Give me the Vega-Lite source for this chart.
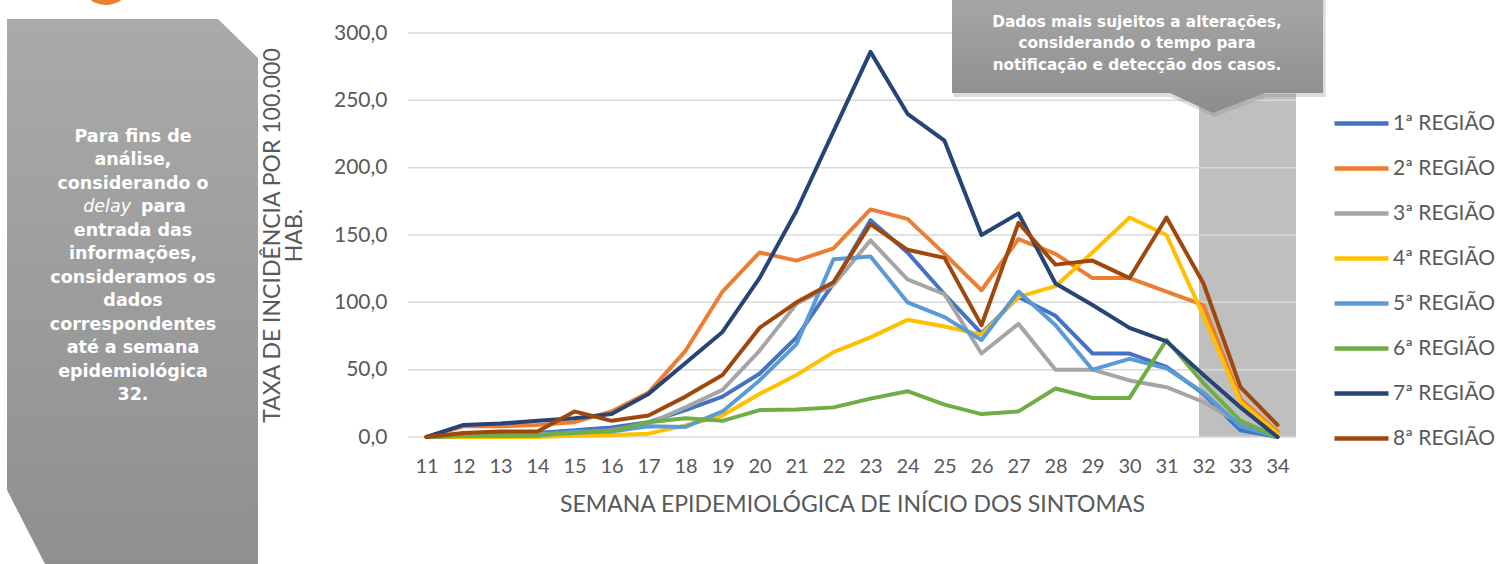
{
  "$schema": "https://vega.github.io/schema/vega-lite/v6.json",
  "width": 888,
  "height": 404,
  "autosize": {"type": "none"},
  "padding": {"left": 408, "top": 33, "right": 203, "bottom": 127},
  "background": "white",
  "config": {
    "view": {"stroke": null},
    "axis": {"labelOverlap": false, "labelSeparation": -100, "labelBound": false}
  },
  "datasets": {
    "series": [
      {"semana": 11, "1ª REGIÃO": 0, "2ª REGIÃO": 0, "3ª REGIÃO": 0, "4ª REGIÃO": 0, "5ª REGIÃO": 0, "6ª REGIÃO": 0, "7ª REGIÃO": 0, "8ª REGIÃO": 0},
      {"semana": 12, "1ª REGIÃO": 2, "2ª REGIÃO": 8, "3ª REGIÃO": 1, "4ª REGIÃO": 0, "5ª REGIÃO": 1, "6ª REGIÃO": 1, "7ª REGIÃO": 9, "8ª REGIÃO": 3},
      {"semana": 13, "1ª REGIÃO": 3, "2ª REGIÃO": 8, "3ª REGIÃO": 1, "4ª REGIÃO": 0, "5ª REGIÃO": 1, "6ª REGIÃO": 1, "7ª REGIÃO": 10, "8ª REGIÃO": 4},
      {"semana": 14, "1ª REGIÃO": 3, "2ª REGIÃO": 9, "3ª REGIÃO": 2, "4ª REGIÃO": 0, "5ª REGIÃO": 1, "6ª REGIÃO": 1.5, "7ª REGIÃO": 12, "8ª REGIÃO": 4},
      {"semana": 15, "1ª REGIÃO": 5, "2ª REGIÃO": 11, "3ª REGIÃO": 3, "4ª REGIÃO": 1, "5ª REGIÃO": 4, "6ª REGIÃO": 3, "7ª REGIÃO": 14, "8ª REGIÃO": 19},
      {"semana": 16, "1ª REGIÃO": 7, "2ª REGIÃO": 19, "3ª REGIÃO": 5, "4ª REGIÃO": 1.5, "5ª REGIÃO": 4, "6ª REGIÃO": 4.5, "7ª REGIÃO": 17, "8ª REGIÃO": 12},
      {"semana": 17, "1ª REGIÃO": 11, "2ª REGIÃO": 33, "3ª REGIÃO": 10, "4ª REGIÃO": 2.5, "5ª REGIÃO": 8, "6ª REGIÃO": 11, "7ª REGIÃO": 32, "8ª REGIÃO": 16},
      {"semana": 18, "1ª REGIÃO": 20, "2ª REGIÃO": 64, "3ª REGIÃO": 22, "4ª REGIÃO": 8.6, "5ª REGIÃO": 7.5, "6ª REGIÃO": 14, "7ª REGIÃO": 55, "8ª REGIÃO": 30},
      {"semana": 19, "1ª REGIÃO": 30, "2ª REGIÃO": 108, "3ª REGIÃO": 35, "4ª REGIÃO": 16, "5ª REGIÃO": 19, "6ª REGIÃO": 12, "7ª REGIÃO": 78, "8ª REGIÃO": 46},
      {"semana": 20, "1ª REGIÃO": 47, "2ª REGIÃO": 137, "3ª REGIÃO": 64, "4ª REGIÃO": 32, "5ª REGIÃO": 42, "6ª REGIÃO": 20, "7ª REGIÃO": 118, "8ª REGIÃO": 81},
      {"semana": 21, "1ª REGIÃO": 74, "2ª REGIÃO": 131, "3ª REGIÃO": 99, "4ª REGIÃO": 46, "5ª REGIÃO": 69, "6ª REGIÃO": 20.5, "7ª REGIÃO": 168, "8ª REGIÃO": 100},
      {"semana": 22, "1ª REGIÃO": 114, "2ª REGIÃO": 140, "3ª REGIÃO": 113, "4ª REGIÃO": 63, "5ª REGIÃO": 132, "6ª REGIÃO": 22, "7ª REGIÃO": 227, "8ª REGIÃO": 115},
      {"semana": 23, "1ª REGIÃO": 161, "2ª REGIÃO": 169, "3ª REGIÃO": 146, "4ª REGIÃO": 74, "5ª REGIÃO": 134, "6ª REGIÃO": 28.5, "7ª REGIÃO": 286, "8ª REGIÃO": 158},
      {"semana": 24, "1ª REGIÃO": 137, "2ª REGIÃO": 162, "3ª REGIÃO": 117, "4ª REGIÃO": 87, "5ª REGIÃO": 100, "6ª REGIÃO": 34, "7ª REGIÃO": 240, "8ª REGIÃO": 139},
      {"semana": 25, "1ª REGIÃO": 106, "2ª REGIÃO": 136, "3ª REGIÃO": 106, "4ª REGIÃO": 82, "5ª REGIÃO": 89, "6ª REGIÃO": 24, "7ª REGIÃO": 220, "8ª REGIÃO": 133},
      {"semana": 26, "1ª REGIÃO": 77, "2ª REGIÃO": 109, "3ª REGIÃO": 62, "4ª REGIÃO": 76, "5ª REGIÃO": 72, "6ª REGIÃO": 17, "7ª REGIÃO": 150, "8ª REGIÃO": 83},
      {"semana": 27, "1ª REGIÃO": 104, "2ª REGIÃO": 147, "3ª REGIÃO": 84, "4ª REGIÃO": 104, "5ª REGIÃO": 108, "6ª REGIÃO": 19, "7ª REGIÃO": 166, "8ª REGIÃO": 159},
      {"semana": 28, "1ª REGIÃO": 90, "2ª REGIÃO": 136, "3ª REGIÃO": 50, "4ª REGIÃO": 112, "5ª REGIÃO": 83, "6ª REGIÃO": 36, "7ª REGIÃO": 114, "8ª REGIÃO": 128},
      {"semana": 29, "1ª REGIÃO": 62, "2ª REGIÃO": 118, "3ª REGIÃO": 50, "4ª REGIÃO": 137, "5ª REGIÃO": 50, "6ª REGIÃO": 29, "7ª REGIÃO": 98, "8ª REGIÃO": 131},
      {"semana": 30, "1ª REGIÃO": 62, "2ª REGIÃO": 118, "3ª REGIÃO": 42, "4ª REGIÃO": 163, "5ª REGIÃO": 58, "6ª REGIÃO": 29, "7ª REGIÃO": 81, "8ª REGIÃO": 118},
      {"semana": 31, "1ª REGIÃO": 52, "2ª REGIÃO": 108, "3ª REGIÃO": 37, "4ª REGIÃO": 150, "5ª REGIÃO": 51, "6ª REGIÃO": 72, "7ª REGIÃO": 71, "8ª REGIÃO": 163},
      {"semana": 32, "1ª REGIÃO": 32, "2ª REGIÃO": 98, "3ª REGIÃO": 26, "4ª REGIÃO": 90, "5ª REGIÃO": 33, "6ª REGIÃO": 40, "7ª REGIÃO": 46, "8ª REGIÃO": 114},
      {"semana": 33, "1ª REGIÃO": 5, "2ª REGIÃO": 28, "3ª REGIÃO": 10, "4ª REGIÃO": 26, "5ª REGIÃO": 8, "6ª REGIÃO": 12, "7ª REGIÃO": 22, "8ª REGIÃO": 37},
      {"semana": 34, "1ª REGIÃO": 0, "2ª REGIÃO": 4, "3ª REGIÃO": 0, "4ª REGIÃO": 2.5, "5ª REGIÃO": 0, "6ª REGIÃO": 0, "7ª REGIÃO": 0, "8ª REGIÃO": 9}
    ],
    "sidebar": [
      {"x": -0.338, "top": 310.4, "bottom": -39.4},
      {"x": 0.689, "top": 310.4, "bottom": -94.3},
      {"x": 5.365, "top": 310.4, "bottom": -94.3},
      {"x": 6.446, "top": 281.4, "bottom": -94.3}
    ],
    "callout": [
      {"x": 25.203, "top": 326, "bottom": 255.4},
      {"x": 31.095, "top": 326, "bottom": 255.4},
      {"x": 32.257, "top": 326, "bottom": 240.6},
      {"x": 33.662, "top": 326, "bottom": 255.4},
      {"x": 35.23, "top": 326, "bottom": 255.4}
    ],
    "shadow": [
      {"x": 25.25, "top": 326, "bottom": 252.4},
      {"x": 31.12, "top": 326, "bottom": 252.4},
      {"x": 32.3, "top": 326, "bottom": 237.6},
      {"x": 33.7, "top": 326, "bottom": 252.4},
      {"x": 35.3, "top": 326, "bottom": 252.4}
    ],
    "notes": [
      {"x": 3.068, "y": 223.0, "t": "Para fins de\nanálise,\nconsiderando o"},
      {"x": 3.068, "y": 153.2, "t": "entrada das\ninformações,\nconsideramos os\ndados\ncorrespondentes\naté a semana\nepidemiológica\n32."}
    ],
    "grid": [{"v": 0}, {"v": 50}, {"v": 100}, {"v": 150}, {"v": 200}, {"v": 250}, {"v": 300}]
  },
  "layer": [
    {
      "data": {"name": "series"},
      "transform": [{"fold": ["1ª REGIÃO", "2ª REGIÃO", "3ª REGIÃO", "4ª REGIÃO", "5ª REGIÃO", "6ª REGIÃO", "7ª REGIÃO", "8ª REGIÃO"], "as": ["regiao", "taxa"]}],
      "mark": {"type": "line", "strokeWidth": 4, "opacity": 0},
      "encoding": {
        "x": {
          "field": "semana", "type": "quantitative",
          "scale": {"domain": [10.5, 34.5], "nice": false, "zero": false},
          "axis": {
            "title": "SEMANA EPIDEMIOLÓGICA DE INÍCIO DOS SINTOMAS",
            "values": [11, 12, 13, 14, 15, 16, 17, 18, 19, 20, 21, 22, 23, 24, 25, 26, 27, 28, 29, 30, 31, 32, 33, 34],
            "tickCount": 24,
            "format": "d", "grid": false, "domain": false, "ticks": false, "tickSize": 0,
            "labelPadding": 19, "labelFlush": false, "labelOverlap": false, "labelSeparation": -100,
            "labelFont": "Lato", "labelFontSize": 20, "labelColor": "#595959",
            "titleFont": "Lato", "titleFontSize": 23, "titleFontWeight": "normal", "titleColor": "#595959", "titlePadding": 17
          }
        },
        "y": {
          "field": "taxa", "type": "quantitative",
          "scale": {"domain": [0, 300], "nice": false},
          "axis": {
            "title": ["TAXA DE INCIDÊNCIA POR 100.000", "HAB."],
            "values": [0, 50, 100, 150, 200, 250, 300],
            "labelExpr": "replace(format(datum.value, '.1f'), '.', ',')",
            "grid": false, "domain": false, "ticks": false, "tickSize": 0,
            "labelPadding": 21,
            "labelFont": "Lato", "labelFontSize": 21, "labelColor": "#595959",
            "titleFont": "Lato", "titleFontSize": 23, "titleFontWeight": "normal", "titleColor": "#595959", "titleLineHeight": 22, "titlePadding": 27
          }
        }
      }
    },
    {
      "data": {"values": [{"x": 2.338, "y": 340.1}]},
      "mark": {"type": "point", "filled": true, "shape": "circle", "size": 2704, "color": "#ED7D31", "opacity": 1},
      "encoding": {
        "x": {"field": "x", "type": "quantitative"},
        "y": {"field": "y", "type": "quantitative"}
      }
    },
    {
      "data": {"name": "sidebar"},
      "mark": {"type": "area", "color": {"gradient": "linear", "x1": 0, "y1": 0, "x2": 0, "y2": 1, "stops": [{"offset": 0, "color": "#aaaaaa"}, {"offset": 1, "color": "#8f8f8f"}]}},
      "encoding": {
        "x": {"field": "x", "type": "quantitative"},
        "y": {"field": "top", "type": "quantitative"},
        "y2": {"field": "bottom"}
      }
    },
    {
      "data": {"name": "notes"},
      "mark": {"type": "text", "font": "DejaVu Sans", "fontWeight": "bold", "fontSize": 17.5, "color": "white", "align": "center", "baseline": "middle", "lineBreak": "\n", "lineHeight": 23.5},
      "encoding": {
        "x": {"field": "x", "type": "quantitative"},
        "y": {"field": "y", "type": "quantitative"},
        "text": {"field": "t"}
      }
    },
    {
      "data": {"values": [{"x": 3.014, "y": 170.8, "t": "delay"}]},
      "mark": {"type": "text", "font": "DejaVu Sans", "fontStyle": "italic", "fontSize": 17.5, "color": "white", "align": "right", "baseline": "middle"},
      "encoding": {
        "x": {"field": "x", "type": "quantitative"},
        "y": {"field": "y", "type": "quantitative"},
        "text": {"field": "t"}
      }
    },
    {
      "data": {"values": [{"x": 3.284, "y": 170.8, "t": "para"}]},
      "mark": {"type": "text", "font": "DejaVu Sans", "fontWeight": "bold", "fontSize": 17.5, "color": "white", "align": "left", "baseline": "middle"},
      "encoding": {
        "x": {"field": "x", "type": "quantitative"},
        "y": {"field": "y", "type": "quantitative"},
        "text": {"field": "t"}
      }
    },
    {
      "data": {"values": [{"x": 31.878, "x2": 34.5, "y": 0, "y2": 255}]},
      "mark": {"type": "rect", "color": "#bfbfbf"},
      "encoding": {
        "x": {"field": "x", "type": "quantitative"},
        "x2": {"field": "x2"},
        "y": {"field": "y", "type": "quantitative"},
        "y2": {"field": "y2"}
      }
    },
    {
      "data": {"name": "grid"},
      "mark": {"type": "rule", "color": "#d9d9d9", "strokeWidth": 1.5},
      "encoding": {
        "y": {"field": "v", "type": "quantitative"}
      }
    },
    {
      "data": {"name": "series"},
      "transform": [{"fold": ["1ª REGIÃO", "2ª REGIÃO", "3ª REGIÃO", "4ª REGIÃO", "5ª REGIÃO", "6ª REGIÃO", "7ª REGIÃO", "8ª REGIÃO"], "as": ["regiao", "taxa"]}],
      "mark": {"type": "line", "strokeWidth": 4, "strokeCap": "round", "strokeJoin": "round"},
      "encoding": {
        "x": {"field": "semana", "type": "quantitative"},
        "y": {"field": "taxa", "type": "quantitative"},
        "color": {
          "field": "regiao", "type": "nominal",
          "scale": {
            "domain": ["1ª REGIÃO", "2ª REGIÃO", "3ª REGIÃO", "4ª REGIÃO", "5ª REGIÃO", "6ª REGIÃO", "7ª REGIÃO", "8ª REGIÃO"],
            "range": ["#4472C4", "#ED7D31", "#A5A5A5", "#FFC000", "#5B9BD5", "#70AD47", "#264478", "#9E480E"]
          },
          "legend": {
            "orient": "none", "legendX": 924, "legendY": 61, "title": null,
            "symbolType": "stroke", "symbolSize": 2916, "symbolStrokeWidth": 4.5,
            "labelFont": "Lato", "labelFontSize": 21, "labelColor": "#595959",
            "rowPadding": 5, "labelOffset": 2
          }
        }
      }
    },
    {
      "data": {"name": "shadow"},
      "mark": {"type": "area", "color": "#8a8a8a", "opacity": 0.3},
      "encoding": {
        "x": {"field": "x", "type": "quantitative"},
        "y": {"field": "top", "type": "quantitative"},
        "y2": {"field": "bottom"}
      }
    },
    {
      "data": {"name": "callout"},
      "mark": {"type": "area", "color": {"gradient": "linear", "x1": 0, "y1": 0, "x2": 0, "y2": 1, "stops": [{"offset": 0, "color": "#a6a6a6"}, {"offset": 1, "color": "#8c8c8c"}]}},
      "encoding": {
        "x": {"field": "x", "type": "quantitative"},
        "y": {"field": "top", "type": "quantitative"},
        "y2": {"field": "bottom"}
      }
    },
    {
      "data": {"values": [{"x": 30.203, "y": 308.2, "t": "Dados mais sujeitos a alterações,\nconsiderando o tempo para\nnotificação e detecção dos casos."}]},
      "mark": {"type": "text", "font": "DejaVu Sans", "fontWeight": "bold", "fontSize": 15.3, "color": "white", "align": "center", "baseline": "middle", "lineBreak": "\n", "lineHeight": 21.5},
      "encoding": {
        "x": {"field": "x", "type": "quantitative"},
        "y": {"field": "y", "type": "quantitative"},
        "text": {"field": "t"}
      }
    }
  ]
}
